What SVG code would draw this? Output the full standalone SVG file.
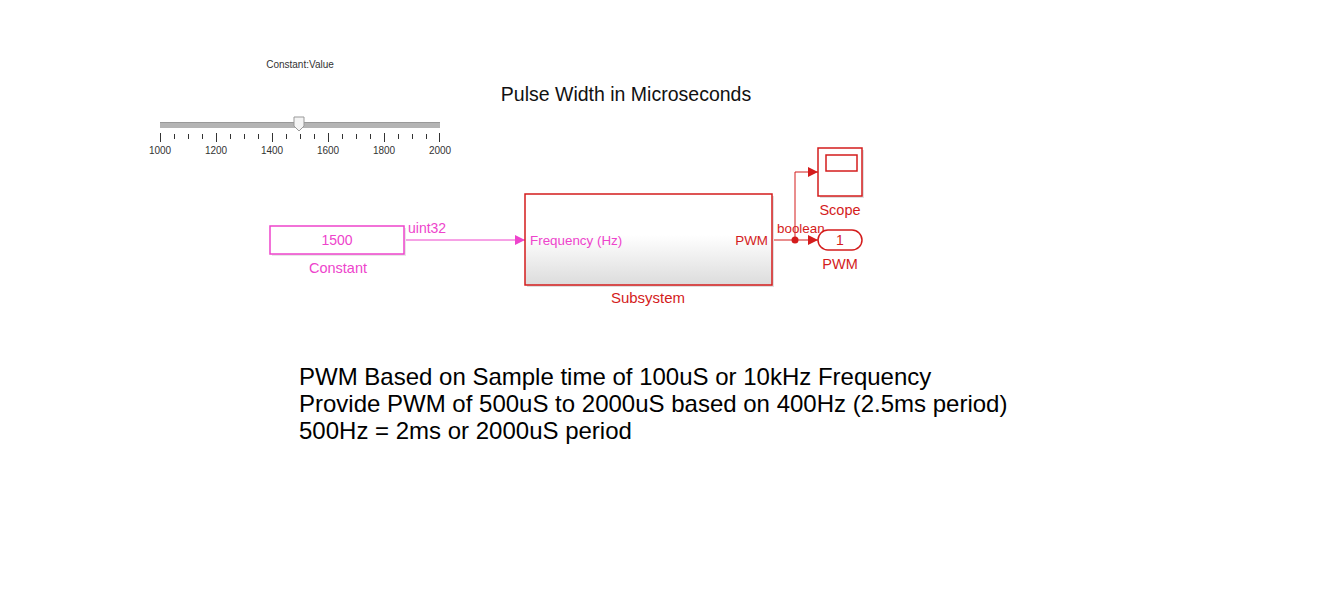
<svg xmlns="http://www.w3.org/2000/svg" width="1328" height="601" viewBox="0 0 1328 601">
<style>
text{font-family:"Liberation Sans",Arial,sans-serif}
.mag{fill:#ee44cc}
.red{fill:#d41c1c}
.tick{stroke:#333;stroke-width:1}
.lbl{font-size:10px;fill:#333;text-anchor:middle}
</style>
<defs>
<linearGradient id="sg" x1="0" y1="0" x2="0" y2="1">
<stop offset="0" stop-color="#ffffff"/>
<stop offset="0.45" stop-color="#ffffff"/>
<stop offset="1" stop-color="#dcdcdc"/>
</linearGradient>
<marker id="am" markerWidth="10" markerHeight="10" refX="10" refY="5" orient="auto" markerUnits="userSpaceOnUse"><path d="M0,0 L10,5 L0,10 z" fill="#ee44cc"/></marker>
<marker id="ar" markerWidth="10" markerHeight="10" refX="10" refY="5" orient="auto" markerUnits="userSpaceOnUse"><path d="M0,0 L10,5 L0,10 z" fill="#d41c1c"/></marker>
</defs>
<rect width="1328" height="601" fill="#fff"/>
<g id="slider">
<text x="300" y="68" class="lbl">Constant:Value</text>
<rect x="160" y="122" width="280" height="6" fill="#b4b4b4"/>
<line x1="160" y1="122.5" x2="440" y2="122.5" stroke="#999"/>
<path d="M294,117 L304,117 L304,126 L299,131 L294,126 z" fill="#f4f4f4" stroke="#999"/>
<g class="tick">
<line x1="160.5" y1="133" x2="160.5" y2="142"/><line x1="174.5" y1="134" x2="174.5" y2="139"/><line x1="188.5" y1="134" x2="188.5" y2="139"/><line x1="202.5" y1="134" x2="202.5" y2="139"/><line x1="216.5" y1="133" x2="216.5" y2="142"/>
<line x1="230.5" y1="134" x2="230.5" y2="139"/><line x1="244.5" y1="134" x2="244.5" y2="139"/><line x1="258.5" y1="134" x2="258.5" y2="139"/><line x1="272.5" y1="133" x2="272.5" y2="142"/>
<line x1="286.5" y1="134" x2="286.5" y2="139"/><line x1="300.5" y1="134" x2="300.5" y2="139"/><line x1="314.5" y1="134" x2="314.5" y2="139"/><line x1="328.5" y1="133" x2="328.5" y2="142"/>
<line x1="342.5" y1="134" x2="342.5" y2="139"/><line x1="356.5" y1="134" x2="356.5" y2="139"/><line x1="370.5" y1="134" x2="370.5" y2="139"/><line x1="384.5" y1="133" x2="384.5" y2="142"/>
<line x1="398.5" y1="134" x2="398.5" y2="139"/><line x1="412.5" y1="134" x2="412.5" y2="139"/><line x1="426.5" y1="134" x2="426.5" y2="139"/><line x1="439.5" y1="133" x2="439.5" y2="142"/>
</g>
<text x="160" y="154" class="lbl">1000</text><text x="216" y="154" class="lbl">1200</text><text x="272" y="154" class="lbl">1400</text><text x="328" y="154" class="lbl">1600</text><text x="384" y="154" class="lbl">1800</text><text x="440" y="154" class="lbl">2000</text>
</g>
<text x="626" y="101" font-size="19.5" text-anchor="middle" fill="#111">Pulse Width in Microseconds</text>
<g id="connectors">
<line x1="404" y1="240" x2="525" y2="240" stroke="#ee44cc" marker-end="url(#am)"/>
<line x1="772" y1="240" x2="818" y2="240" stroke="#d41c1c" marker-end="url(#ar)"/>
<polyline points="795,240 795,172 818,172" fill="none" stroke="#d41c1c" marker-end="url(#ar)"/>
<circle cx="795" cy="240" r="3.5" fill="#d41c1c"/>
<text x="408" y="233" font-size="14" class="mag">uint32</text>
<text x="777" y="233" font-size="13.4" class="red">boolean</text>
</g>
<g id="constant">
<rect x="272" y="228" width="134" height="28" fill="#e8e8e8"/>
<rect x="270" y="226" width="134" height="28" fill="#fff" stroke="#ee44cc" stroke-width="1.5"/>
<text x="337" y="245" font-size="14" text-anchor="middle" class="mag">1500</text>
<text x="338" y="273" font-size="14.5" text-anchor="middle" class="mag">Constant</text>
</g>
<g id="subsystem">
<rect x="527" y="196" width="247" height="91" fill="#e0e0e0"/>
<rect x="525" y="194" width="247" height="91" fill="url(#sg)" stroke="#d41c1c" stroke-width="1.5"/>
<text x="530" y="245" font-size="13.4" class="mag">Frequency (Hz)</text>
<text x="768" y="245" font-size="13.4" text-anchor="end" class="red">PWM</text>
<text x="648" y="303" font-size="15" text-anchor="middle" class="red">Subsystem</text>
</g>
<g id="scope">
<rect x="820" y="150" width="44" height="48" fill="#e0e0e0"/>
<rect x="818" y="148" width="44" height="48" fill="#fff" stroke="#d41c1c" stroke-width="1.5"/>
<rect x="826" y="155" width="31" height="16" fill="#fff" stroke="#d41c1c" stroke-width="1.5"/>
<text x="840" y="215" font-size="14.5" text-anchor="middle" class="red">Scope</text>
</g>
<g id="pwm_out">
<rect x="818" y="230" width="44" height="20" rx="10" ry="10" fill="#fff" stroke="#d41c1c" stroke-width="1.5"/>
<text x="840" y="245" font-size="14" text-anchor="middle" class="red">1</text>
<text x="840" y="269" font-size="14.5" text-anchor="middle" class="red">PWM</text>
</g>
<g id="notes" font-size="24" fill="#000">
<text x="299" y="385">PWM Based on Sample time of 100uS or 10kHz Frequency</text>
<text x="299" y="412">Provide PWM of 500uS to 2000uS based on 400Hz (2.5ms period)</text>
<text x="299" y="439">500Hz = 2ms or 2000uS period</text>
</g>
</svg>
